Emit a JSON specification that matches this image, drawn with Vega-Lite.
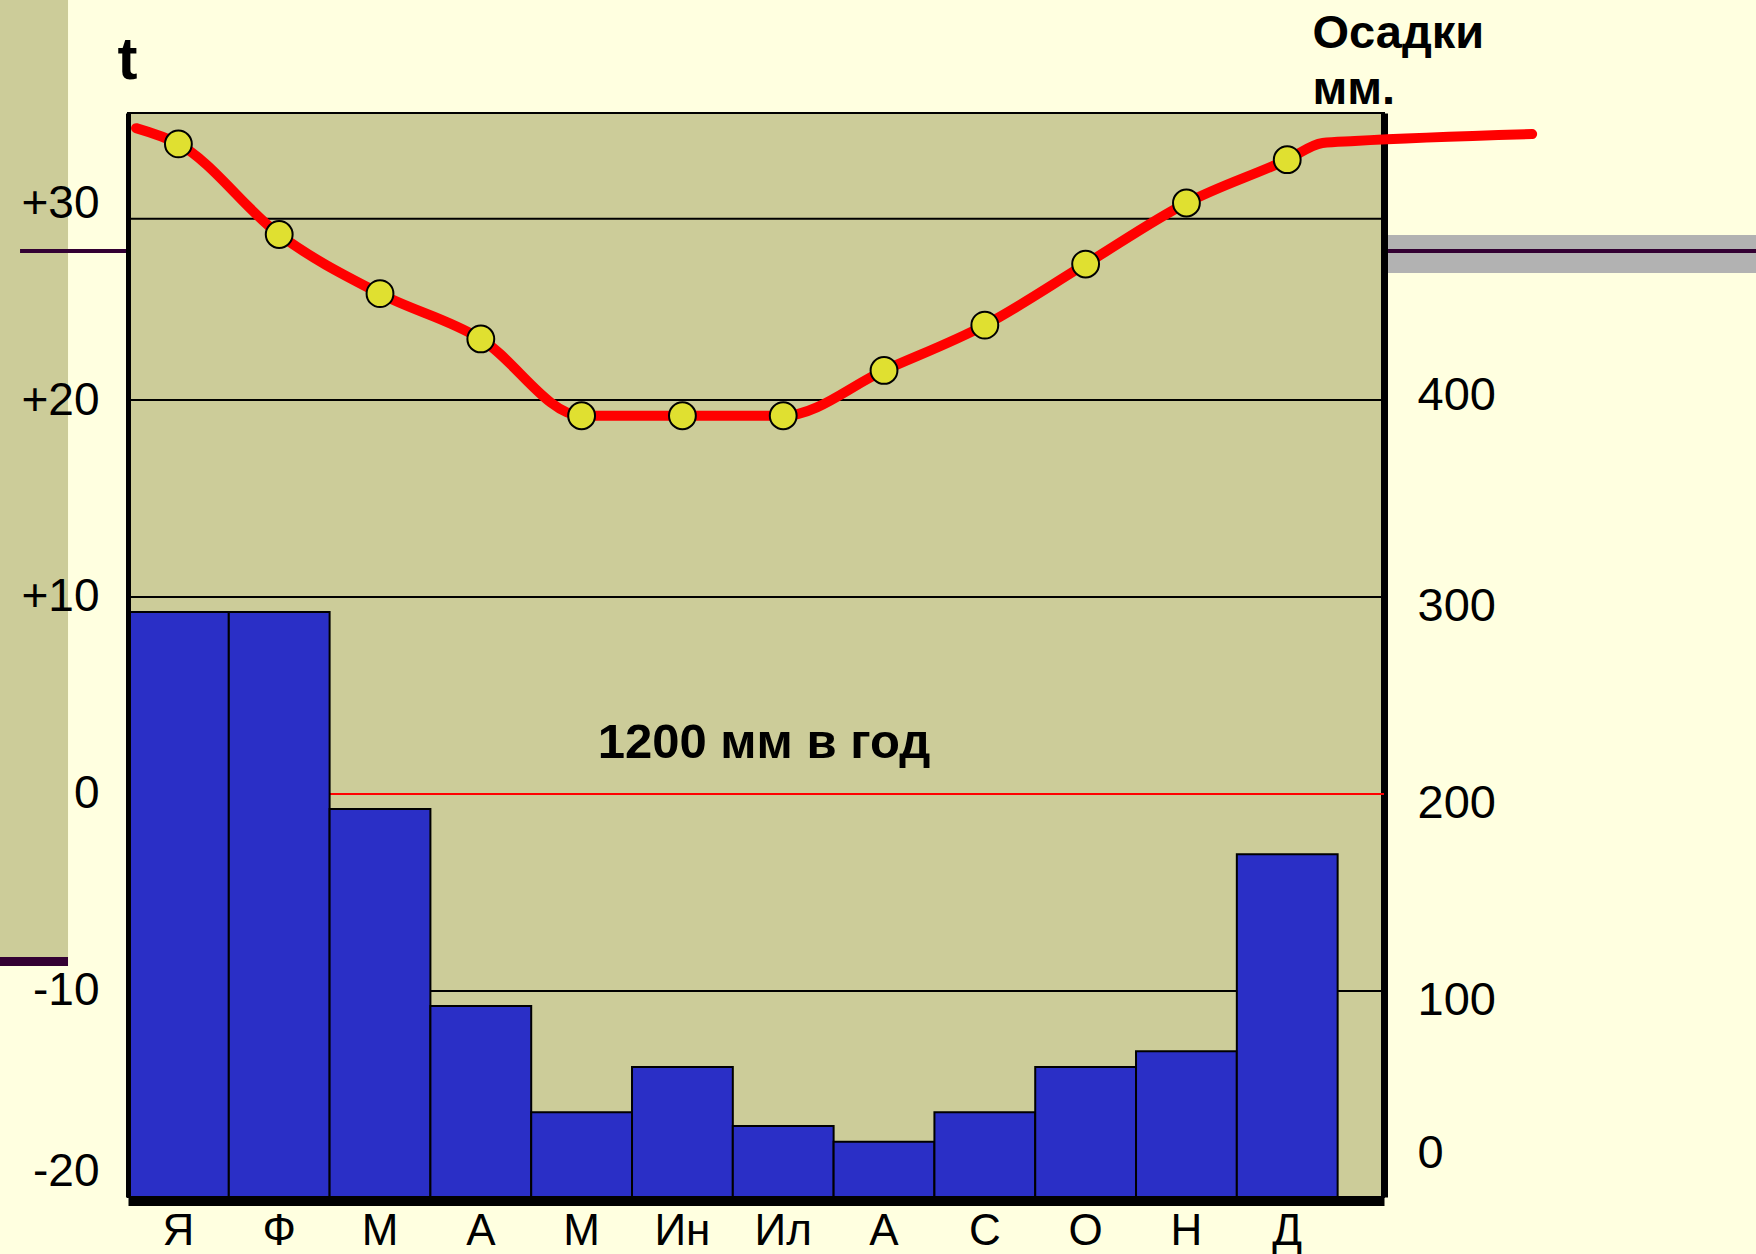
{
  "$schema": "https://vega.github.io/schema/vega-lite/v6.json",
  "autosize": {"type": "none"},
  "width": 1256,
  "height": 1084,
  "padding": {"left": 128, "top": 113, "right": 372, "bottom": 57},
  "background": "#FFFFE0",
  "config": {
    "font": "Liberation Sans",
    "view": {"fill": "#CCCC99", "stroke": "#000000", "strokeWidth": 2},
    "axis": {"labelColor": "#000000", "titleColor": "#000000", "labelFont": "Liberation Sans", "titleFont": "Liberation Sans"}
  },
  "datasets": {
    "months": [
      {"m": 1, "name": "Я", "precip": 297, "temp": 33.0},
      {"m": 2, "name": "Ф", "precip": 297, "temp": 28.4},
      {"m": 3, "name": "М", "precip": 197, "temp": 25.4},
      {"m": 4, "name": "А", "precip": 97, "temp": 23.1},
      {"m": 5, "name": "М", "precip": 43, "temp": 19.2},
      {"m": 6, "name": "Ин", "precip": 66, "temp": 19.2},
      {"m": 7, "name": "Ил", "precip": 36, "temp": 19.2},
      {"m": 8, "name": "А", "precip": 28, "temp": 21.5},
      {"m": 9, "name": "С", "precip": 43, "temp": 23.8},
      {"m": 10, "name": "О", "precip": 66, "temp": 26.9},
      {"m": 11, "name": "Н", "precip": 74, "temp": 30.0},
      {"m": 12, "name": "Д", "precip": 174, "temp": 32.2}
    ],
    "templine": [
      {"m": 0.58, "temp": 33.8},
      {"m": 1, "temp": 33.0},
      {"m": 2, "temp": 28.4},
      {"m": 3, "temp": 25.4},
      {"m": 4, "temp": 23.1},
      {"m": 5, "temp": 19.2},
      {"m": 6, "temp": 19.2},
      {"m": 7, "temp": 19.2},
      {"m": 8, "temp": 21.5},
      {"m": 9, "temp": 23.8},
      {"m": 10, "temp": 26.9},
      {"m": 11, "temp": 30.0},
      {"m": 12, "temp": 32.2},
      {"m": 12.35, "temp": 33.05},
      {"m": 12.67, "temp": 33.15},
      {"m": 14.43, "temp": 33.5}
    ],
    "gridlines": [
      {"temp": 29.2, "kind": "grid"},
      {"temp": 20, "kind": "grid"},
      {"temp": 10, "kind": "grid"},
      {"temp": 0, "kind": "zero"},
      {"temp": -10, "kind": "grid"}
    ],
    "notes": [
      {"label": "1200 мм в год", "m": 6.81, "temp": 1.83}
    ],
    "decor": [
      {"part": "strip", "m1": -0.8, "m2": -0.095, "t1": 45, "t2": -8.27},
      {"part": "stripEdge", "m1": -0.8, "m2": -0.095, "t1": -8.27, "t2": -8.73},
      {"part": "band", "m1": 13.0, "m2": 17, "t1": 28.38, "t2": 26.45},
      {"part": "leftLine", "m1": -0.571, "m2": 0.5, "t1": 27.56, "t2": 27.56},
      {"part": "rightLine", "m1": 13.0, "m2": 17, "t1": 27.56, "t2": 27.56}
    ]
  },
  "resolve": {"scale": {"x": "independent", "y": "independent"}},
  "layer": [
    {
      "data": {"name": "gridlines"},
      "mark": {"type": "rule", "strokeWidth": 2},
      "encoding": {
        "y": {
          "field": "temp", "type": "quantitative",
          "scale": {"domain": [-20.46, 34.57], "nice": false, "zero": false},
          "axis": {
            "orient": "left", "values": [-20, -10, 0, 10, 20, 30],
            "grid": false,
            "ticks": false,
            "zindex": 1,
            "domainColor": "#000000", "domainWidth": 5,
            "labelFontSize": 46, "labelPadding": 29,
            "labelOffset": {"condition": {"test": "datum.value === -20", "value": -16}, "value": 0},
            "labelExpr": "datum.value > 0 ? '+' + datum.value : (datum.value < 0 ? '-' + abs(datum.value) : '0')",
            "title": "t",
            "titleFontSize": 60, "titleFontWeight": "bold", "titleAngle": 0,
            "titleAlign": "center", "titleBaseline": "alphabetic",
            "titleX": -1, "titleY": -35
          }
        },
        "color": {"condition": {"test": "datum.kind === 'zero'", "value": "#FF0000"}, "value": "#000000"}
      }
    },
    {
      "data": {"name": "templine"},
      "mark": {"type": "line", "stroke": "#FF0000", "strokeWidth": 10, "interpolate": "monotone", "strokeCap": "round", "strokeJoin": "round"},
      "encoding": {
        "x": {"field": "m", "type": "quantitative", "scale": {"domain": [0.5, 12.96], "nice": false, "zero": false}, "axis": null},
        "y": {"field": "temp", "type": "quantitative", "scale": {"domain": [-20.46, 34.57], "nice": false, "zero": false}, "axis": null}
      }
    },
    {
      "data": {"name": "months"},
      "mark": {"type": "point", "shape": "circle", "filled": true, "fill": "#E0E030", "stroke": "#000000", "strokeWidth": 2, "opacity": 1, "size": 720},
      "encoding": {
        "x": {"field": "m", "type": "quantitative", "scale": {"domain": [0.5, 12.96], "nice": false, "zero": false}, "axis": null},
        "y": {"field": "temp", "type": "quantitative", "scale": {"domain": [-20.46, 34.57], "nice": false, "zero": false}, "axis": null}
      }
    },
    {
      "data": {"name": "notes"},
      "mark": {"type": "text", "fontSize": 49, "fontWeight": "bold", "align": "center", "baseline": "alphabetic", "color": "#000000", "font": "Liberation Sans"},
      "encoding": {
        "x": {"field": "m", "type": "quantitative", "scale": {"domain": [0.5, 12.96], "nice": false, "zero": false}, "axis": null},
        "y": {"field": "temp", "type": "quantitative", "scale": {"domain": [-20.46, 34.57], "nice": false, "zero": false}, "axis": null},
        "text": {"field": "label"}
      }
    },
    {
      "data": {"name": "decor"},
      "transform": [{"filter": "datum.part === 'strip'"}],
      "mark": {"type": "rect", "fill": "#CCCC99"},
      "encoding": {
        "x": {"field": "m1", "type": "quantitative", "scale": {"domain": [0.5, 12.96], "nice": false, "zero": false}, "axis": null},
        "x2": {"field": "m2"},
        "y": {"field": "t1", "type": "quantitative", "scale": {"domain": [-20.46, 34.57], "nice": false, "zero": false}, "axis": null},
        "y2": {"field": "t2"}
      }
    },
    {
      "data": {"name": "decor"},
      "transform": [{"filter": "datum.part === 'stripEdge'"}],
      "mark": {"type": "rect", "fill": "#330033"},
      "encoding": {
        "x": {"field": "m1", "type": "quantitative", "scale": {"domain": [0.5, 12.96], "nice": false, "zero": false}, "axis": null},
        "x2": {"field": "m2"},
        "y": {"field": "t1", "type": "quantitative", "scale": {"domain": [-20.46, 34.57], "nice": false, "zero": false}, "axis": null},
        "y2": {"field": "t2"}
      }
    },
    {
      "data": {"name": "decor"},
      "transform": [{"filter": "datum.part === 'band'"}],
      "mark": {"type": "rect", "fill": "#B2B2B2"},
      "encoding": {
        "x": {"field": "m1", "type": "quantitative", "scale": {"domain": [0.5, 12.96], "nice": false, "zero": false}, "axis": null},
        "x2": {"field": "m2"},
        "y": {"field": "t1", "type": "quantitative", "scale": {"domain": [-20.46, 34.57], "nice": false, "zero": false}, "axis": null},
        "y2": {"field": "t2"}
      }
    },
    {
      "data": {"name": "decor"},
      "transform": [{"filter": "datum.part === 'leftLine' || datum.part === 'rightLine'"}],
      "mark": {"type": "rule", "stroke": "#330033", "strokeWidth": 4},
      "encoding": {
        "x": {"field": "m1", "type": "quantitative", "scale": {"domain": [0.5, 12.96], "nice": false, "zero": false}, "axis": null},
        "x2": {"field": "m2"},
        "y": {"field": "t1", "type": "quantitative", "scale": {"domain": [-20.46, 34.57], "nice": false, "zero": false}, "axis": null}
      }
    },
    {
      "data": {"name": "months"},
      "mark": {"type": "bar", "fill": "#2A2FC6", "stroke": "#000000", "strokeWidth": 2},
      "encoding": {
        "x": {
          "field": "m", "type": "ordinal",
          "scale": {"paddingInner": 0, "paddingOuter": 0.23, "align": 0},
          "axis": {
            "orient": "bottom", "title": null,
            "labelExpr": "['Я','Ф','М','А','М','Ин','Ил','А','С','О','Н','Д'][datum.value - 1]",
            "labelAngle": 0, "labelFontSize": 44, "labelPadding": 8,
            "ticks": false, "grid": false,
            "domainColor": "#000000", "domainWidth": 9, "offset": 4
          }
        },
        "y": {
          "field": "precip", "type": "quantitative",
          "scale": {"domain": [0, 550.3], "nice": false},
          "axis": {
            "orient": "right", "values": [0, 100, 200, 300, 400],
            "grid": false, "ticks": false,
            "domainColor": "#000000", "domainWidth": 7,
            "labelFontSize": 47, "labelPadding": 33,
            "labelOffset": {"condition": [{"test": "datum.value === 0", "value": -44}, {"test": "datum.value === 400", "value": -14}], "value": 0},
            "title": ["Осадки", "мм."],
            "titleFontSize": 47, "titleFontWeight": "bold", "titleAngle": 0,
            "titleAlign": "left", "titleBaseline": "alphabetic",
            "titleX": -72, "titleY": -66, "titleLineHeight": 56
          }
        }
      }
    }
  ]
}
